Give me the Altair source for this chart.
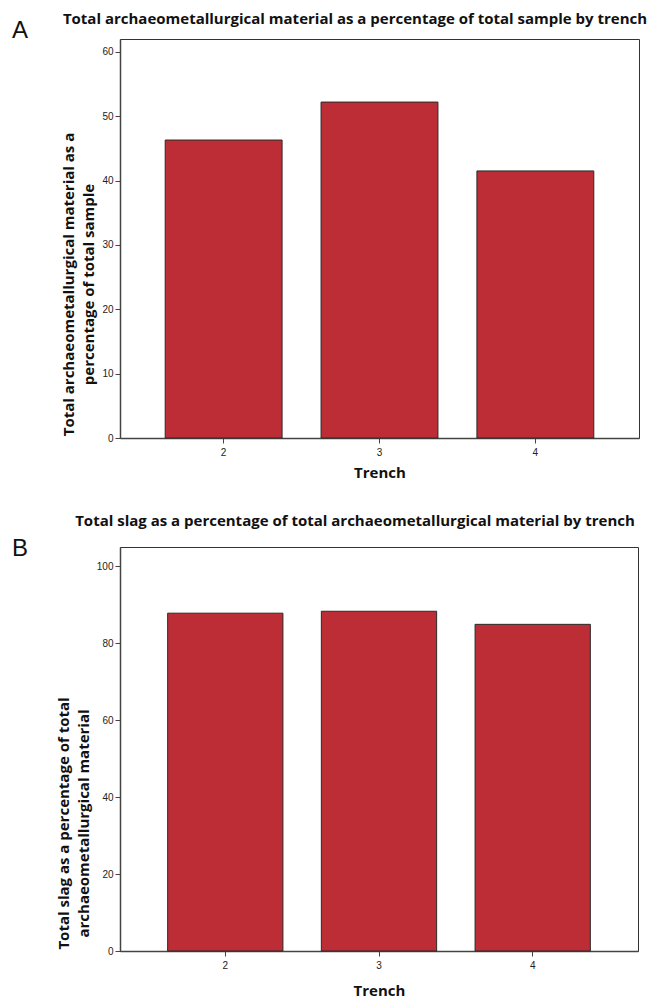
import altair as alt
import pandas as pd

# Trench categories and measured percentages
trenches = ["2", "3", "4"]
metal_pct_of_sample = [46.3, 52.2, 41.5]
slag_pct_of_metal = [87.8, 88.3, 84.9]

# Axis tick values for each panel
ticks_top = [0, 10, 20, 30, 40, 50, 60]
ticks_bottom = [0, 20, 40, 60, 80, 100]

BAR_FILL = "#BD2D35"
BAR_EDGE = "#2a2a2a"
TITLE_FONT = "Open Sans"
LABEL_FONT = "Liberation Sans"
TITLE_SIZE = 15


def panel(values, title, ytitle, ymax, ticks, letter, w, h,
          title_dy, letter_dy, ytitle_y, outer_pad, xtitle_pad):
    df = pd.DataFrame({"Trench": trenches, "value": values})
    x = alt.X(
        "Trench:N",
        sort=trenches,
        title="Trench",
        scale=alt.Scale(paddingInner=0.25, paddingOuter=outer_pad),
        axis=alt.Axis(labelAngle=0, labelPadding=4, titlePadding=xtitle_pad),
    )
    y = alt.Y(
        "value:Q",
        title=ytitle,
        scale=alt.Scale(domain=[0, ymax], nice=False, zero=True),
        axis=alt.Axis(values=ticks, titlePadding=5, labelPadding=2,
                      titleY=ytitle_y, titleAlign="center"),
    )
    bars = alt.Chart(df).mark_bar(
        color=BAR_FILL, stroke=BAR_EDGE, strokeWidth=1
    ).encode(x=x, y=y)
    # panel letter in the upper-left corner
    tag = alt.Chart(pd.DataFrame({"tag": [letter]})).mark_text(
        font="Liberation Sans", fontSize=24, align="center", baseline="middle",
        color="#111"
    ).encode(text="tag:N", x=alt.value(-100), y=alt.value(letter_dy))
    # panel heading
    head = alt.Chart(pd.DataFrame({"head": [title]})).mark_text(
        font=TITLE_FONT, fontSize=TITLE_SIZE, fontWeight="bold",
        align="center", baseline="alphabetic", color="#111"
    ).encode(text="head:N", x=alt.value(235), y=alt.value(title_dy))
    return alt.layer(bars, tag, head).properties(width=w, height=h)


top = panel(
    metal_pct_of_sample,
    "Total archaeometallurgical material as a percentage of total sample by trench",
    ["Total archaeometallurgical material as a", "percentage of total sample"],
    62, ticks_top, "A", 519, 399, -15, -8, 245, 0.29, 8,
)
bottom = panel(
    slag_pct_of_metal,
    "Total slag as a percentage of total archaeometallurgical material by trench",
    ["Total slag as a percentage of total", "archaeometallurgical material"],
    105, ticks_bottom, "B", 518, 404, -21, 2, 276, 0.31, 13,
)

chart = alt.vconcat(top, bottom, spacing=32).configure(
    padding={"left": 11, "top": 11, "right": 0, "bottom": 0},
).configure_view(
    stroke="#333", strokeWidth=1,
).configure_axis(
    grid=False,
    domainColor="#444",
    domainWidth=1.5,
    tickColor="#444",
    tickSize=5,
    labelFont=LABEL_FONT,
    labelFontSize=10,
    labelColor="#222",
    titleFont=TITLE_FONT,
    titleFontSize=TITLE_SIZE,
    titleFontWeight="bold",
    titleColor="#111",
    titleLineHeight=20,
)

chart.save("out.html", embed_options={"renderer": "svg", "actions": False})
